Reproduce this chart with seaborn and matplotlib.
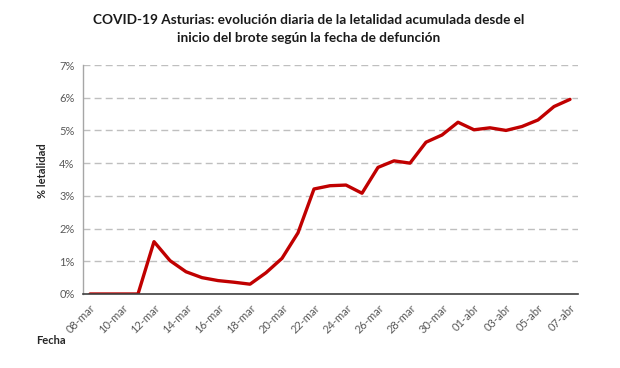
import matplotlib
matplotlib.use("Agg")
import matplotlib.pyplot as plt
import seaborn as sns
import pandas as pd
from matplotlib.ticker import FuncFormatter

dates = ["08-mar", "09-mar", "10-mar", "11-mar", "12-mar", "13-mar", "14-mar", "15-mar",
         "16-mar", "17-mar", "18-mar", "19-mar", "20-mar", "21-mar", "22-mar", "23-mar",
         "24-mar", "25-mar", "26-mar", "27-mar", "28-mar", "29-mar", "30-mar", "31-mar",
         "01-abr", "02-abr", "03-abr", "04-abr", "05-abr", "06-abr", "07-abr"]
letalidad = [0.0, 0.0, 0.0, 0.0, 1.60, 1.02, 0.68, 0.50, 0.41, 0.36, 0.30, 0.65, 1.09,
             1.87, 3.21, 3.31, 3.33, 3.08, 3.87, 4.07, 4.00, 4.64, 4.86, 5.25, 5.02,
             5.08, 5.00, 5.12, 5.32, 5.73, 5.95]
y_ticks = [0, 1, 2, 3, 4, 5, 6, 7]

sns.set_theme(style="white")
plt.rcParams['font.family'] = ['Lato', 'DejaVu Sans']

df = pd.DataFrame({"idx": range(len(dates)), "fecha": dates, "letalidad": letalidad})

fig = plt.figure(figsize=(6.2, 3.68), dpi=100)
ax = fig.add_axes([83/620, 1 - 294/368, (578-83)/620, (294-65)/368])

sns.lineplot(data=df, x="idx", y="letalidad", ax=ax, color="#C00000", linewidth=2.4)

ax.set_xlim(-7/16, 30.5)
ax.set_ylim(0, 7)
ax.set_yticks(y_ticks)
ax.yaxis.set_major_formatter(FuncFormatter(lambda v, p: f"{int(round(v))}%"))
ax.set_xticks(df["idx"][::2])
ax.set_xticklabels(df["fecha"][::2], rotation=45, ha="right", rotation_mode="anchor")
ax.tick_params(axis="both", length=0, labelsize=8, labelcolor="#595959")
ax.tick_params(axis="x", pad=6)
ax.tick_params(axis="y", pad=6)

for v in y_ticks[1:]:
    ax.axhline(v, color="#BFBFBF", linewidth=1, linestyle=(0, (5, 3)), zorder=0)

for s in ["top", "right"]:
    ax.spines[s].set_visible(False)
ax.spines["left"].set_color("#A6A6A6")
ax.spines["left"].set_linewidth(1)
ax.spines["bottom"].set_color("#404040")
ax.spines["bottom"].set_linewidth(1.2)

ax.set_xlabel("")
ax.set_ylabel("")
fig.text(42/620, 1 - 171/368, "% letalidad", rotation=90, ha="center", va="center",
         fontsize=8, fontweight="bold", color="#262626")
fig.text(36/620, 1 - 340/368, "Fecha", ha="left", va="center",
         fontsize=8, fontweight="bold", color="#262626")
fig.text(309/620, 1 - 29/368,
         "COVID-19 Asturias: evolución diaria de la letalidad acumulada desde el\ninicio del brote según la fecha de defunción",
         ha="center", va="center", fontsize=9.8, fontweight="bold", color="#1a1a1a",
         linespacing=1.6)

fig.savefig("out.png", dpi=100, facecolor="white")
